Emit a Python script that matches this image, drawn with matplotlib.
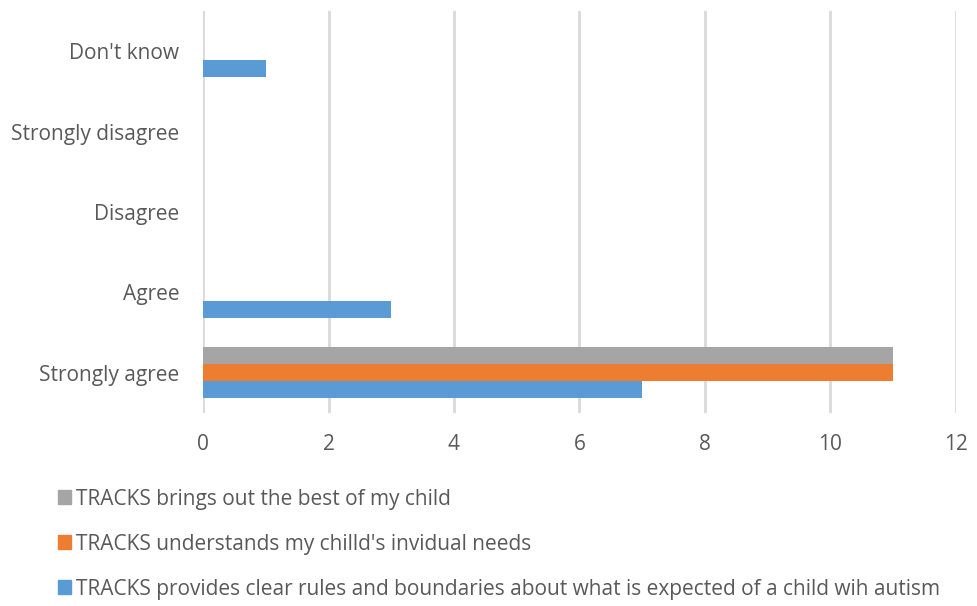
import numpy as np
import matplotlib.pyplot as plt
from matplotlib.patches import Patch

categories = ["Strongly agree", "Agree", "Disagree", "Strongly disagree", "Don't know"]
series_names = [
    "TRACKS provides clear rules and boundaries about what is expected of a child wih autism",
    "TRACKS understands my chilld's invidual needs",
    "TRACKS brings out the best of my child",
]
rules_vals = [7, 3, 0, 0, 1]
needs_vals = [11, 0, 0, 0, 0]
best_vals = [11, 0, 0, 0, 0]
colors = ["#5b9bd5", "#ed7d31", "#a5a5a5"]
xticks = [0, 2, 4, 6, 8, 10, 12]

plt.rcParams["font.family"] = ["Open Sans", "DejaVu Sans"]
txt = "#595959"

fig = plt.figure(figsize=(9.78, 6.06), dpi=100)
ax = fig.add_axes([203 / 978, 1 - 413 / 606, (956 - 203) / 978, 402 / 606])

y = np.arange(len(categories))
h = 0.21
for i, vals in enumerate([rules_vals, needs_vals, best_vals]):
    ax.barh(y + (i - 1) * h, vals, height=h, color=colors[i], zorder=3)

ax.set_xlim(0, 12)
ax.set_ylim(-0.5, len(categories) - 0.5)
ax.set_xticks(xticks)
ax.set_yticks(y)
ax.set_yticklabels(categories)
ax.grid(axis="x", color="#d9d9d9", linewidth=2, zorder=0)
for s in ax.spines.values():
    s.set_visible(False)
ax.tick_params(axis="both", length=0, labelsize=15, colors=txt)
ax.tick_params(axis="y", pad=17)
ax.tick_params(axis="x", pad=15)

handles = [Patch(color=colors[i]) for i in [2, 1, 0]]
labels = [series_names[i] for i in [2, 1, 0]]
fig.legend(handles, labels, loc="upper left", bbox_to_anchor=(39 / 978, 1 - 470 / 606),
           frameon=False, fontsize=15, labelcolor=txt, handlelength=0.65,
           handleheight=0.65, handletextpad=0.25, labelspacing=1.15)

fig.savefig("out.png", dpi=100)
